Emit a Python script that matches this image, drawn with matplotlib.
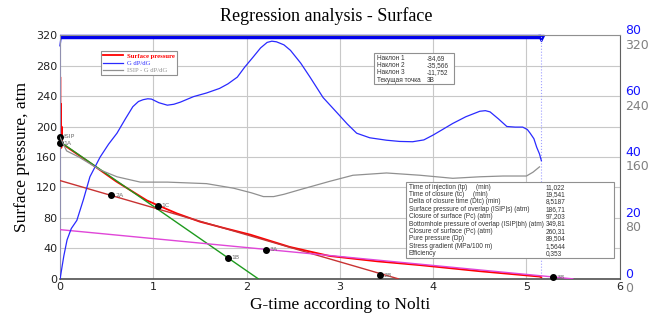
import numpy as np
import matplotlib.pyplot as plt
from matplotlib.patches import Rectangle
from matplotlib.transforms import ScaledTranslation

# ---- data ----
# surface pressure (atm) vs G-time
red_x = [0, 0.002, 0.004, 0.006, 0.008, 0.010, 0.013, 0.016, 0.020, 0.030, 0.05,
         0.30, 0.60, 0.93, 1.04, 1.25, 1.50, 1.75, 2.04, 2.46, 2.89, 3.40, 3.86, 4.50, 5.14, 5.16]
red_y = [186, 265, 175, 230, 180, 215, 172, 200, 178, 176, 175,
         154, 128, 103, 97, 86, 75, 67, 58, 42, 30, 23, 18, 10, 3, 2]

# G dP/dG (right blue axis, 0..80)
blue_x = [0, 0.04, 0.075, 0.12, 0.18, 0.25, 0.32, 0.43, 0.52, 0.61, 0.70, 0.78, 0.84, 0.89,
          0.94, 0.98, 1.06, 1.15, 1.22, 1.29, 1.43, 1.57, 1.71, 1.80, 1.90, 1.98, 2.07,
          2.15, 2.22, 2.27, 2.32, 2.40, 2.47, 2.58, 2.68, 2.82, 2.97, 3.08, 3.18, 3.32,
          3.50, 3.64, 3.78, 3.90, 4.00, 4.10, 4.21, 4.35, 4.50, 4.56, 4.61, 4.70, 4.79,
          4.88, 4.96, 5.01, 5.04, 5.08, 5.11, 5.14, 5.16]
blue_y = [0, 7.5, 12.8, 16.5, 19.2, 26.0, 33.5, 40.0, 44.2, 47.8, 52.5, 56.5, 58.2, 58.8,
          59.1, 59.0, 57.8, 57.0, 57.3, 58.0, 59.8, 61.0, 62.5, 64.0, 66.2, 69.5, 72.8,
          75.8, 77.6, 78.0, 77.8, 76.8, 75.0, 70.8, 66.2, 59.5, 54.5, 50.8, 47.8, 46.3,
          45.5, 45.1, 45.0, 45.6, 47.2, 49.0, 51.0, 53.2, 55.0, 55.2, 54.8, 52.5, 50.0,
          49.8, 49.8, 49.0, 47.8, 46.0, 43.2, 41.0, 38.8]

# ISIP - G dP/dG (right gray axis, 0..320)
gray_x = [0, 0.07, 0.20, 0.43, 0.61, 0.86, 1.15, 1.57, 1.86, 2.05, 2.18, 2.29, 2.40, 2.57,
          2.89, 3.14, 3.50, 3.86, 4.21, 4.50, 4.75, 5.00, 5.07, 5.14]
gray_y = [186, 168, 160, 143, 134, 127, 127, 125, 119, 113, 108, 108, 111, 117,
          128, 136, 139, 136, 132, 134, 135, 135, 140, 147]

# regression lines: (intercept, slope)
fit_b = [180.0, 129.0, 64.6]
fit_k = [-84.69, -35.566, -11.752]
fit_colors = ['#1e9a1e', '#c83232', '#e046d8']

# marked points
pt_names = ['ISIP', '1A', '2A', '1C', '1B', '3A', '2B', '3B']
pt_x = [0.0, 0.0, 0.55, 1.05, 1.80, 2.21, 3.43, 5.28]
pt_y = [186.7, 178, 110, 96, 28, 38, 5, 2]

closure_x = 5.16  # end of the injection bar / dotted marker

slope_names = ['Наклон 1', 'Наклон 2', 'Наклон 3', 'Текущая точка']
slope_vals = ['-84,69', '-35,566', '-11,752', '3B']

info_names = ['Time of injection (tp)     (min)', 'Time of closure (tc)     (min)',
              'Delta of closure time (Dtc) (min)', 'Surface pressure of overlap (ISIP|s) (atm)',
              'Closure of surface (Pc) (atm)', 'Bottomhole pressure of overlap (ISIP|bh) (atm)',
              'Closure of surface (Pc) (atm)', 'Pure pressure (Dp)',
              'Stress gradient (MPa/100 m)', 'Efficiency']
info_vals = ['11,022', '19,541', '8,5187', '186,71', '97,203', '349,81',
             '260,31', '89,504', '1,5644', '0,353']

# ---- figure ----
fig = plt.figure(figsize=(6.53, 3.22), dpi=100)
ax = fig.add_axes([0.092, 0.134, 0.857, 0.757])
ax.set_xlim(0, 6)
ax.set_ylim(0, 320)
ax.set_xticks(range(0, 7))
ax.set_yticks(range(0, 321, 40))
ax.grid(True, color='#c8c8c8', lw=0.8)
ax.set_axisbelow(True)
ax.tick_params(length=0, labelsize=8, colors='#222222', pad=2)
ax.spines['left'].set_color('#9090b0')
ax.spines['bottom'].set_color('#505050')
ax.spines['bottom'].set_linewidth(1.2)
ax.spines['right'].set_color('#606060')
ax.spines['top'].set_color('#909090')

# right axes: blue G dP/dG scale and gray ISIP scale
ax2 = ax.twinx()
ax2.set_ylim(0, 80)
ax2.set_yticks(range(0, 81, 20))
ax2.tick_params(length=0, labelsize=9, colors='#1515ff', pad=4)
for t in ax2.get_yticklabels():
    t.set_verticalalignment('baseline')
    t.set_transform(t.get_transform() + ScaledTranslation(0, 0.5 / 72, fig.dpi_scale_trans))
ax3 = ax.twinx()
ax3.set_ylim(0, 320)
ax3.set_yticks(range(0, 321, 80))
ax3.tick_params(length=0, labelsize=9, colors='#808080', pad=4)
for t in ax3.get_yticklabels():
    t.set_verticalalignment('top')
    t.set_transform(t.get_transform() + ScaledTranslation(0, -2.5 / 72, fig.dpi_scale_trans))
for a in (ax2, ax3):
    for s in a.spines.values():
        s.set_visible(False)

# regression lines down to zero pressure
for b, k, c in zip(fit_b, fit_k, fit_colors):
    xe = -b / k
    ax.plot([0, xe], [b, b + k * xe], color=c, lw=1.0, zorder=3)

l_gray, = ax3.plot(gray_x, gray_y, color='#909090', lw=0.9, label='ISIP - G dP/dG', zorder=2)
l_blue, = ax2.plot(blue_x, blue_y, color='#2a2aff', lw=0.9, label='G dP/dG', zorder=2)
l_red, = ax.plot(red_x, red_y, color='#ff0000', lw=1.3, label='Surface pressure', zorder=2.5)

# injection bar on top and closure marker
ax.plot([0, 0.01], [306, 317.5], color='#0000ee', lw=1.0, clip_on=False)
ax.plot([0, closure_x], [317.5, 317.5], color='#0000ee', lw=3.2, clip_on=False, solid_capstyle='butt')
ax.plot([closure_x], [316], marker='v', color='#0000ee', ms=5, clip_on=False)
ax.axvline(closure_x, color='#a0a0ff', lw=0.8, ls=':')

# marked points
ax.scatter(pt_x, pt_y, s=16, color='black', zorder=5, clip_on=False)
for n, x, y in zip(pt_names, pt_x, pt_y):
    ax.text(x + 0.04, y, n, fontsize=4.5, color='#707070', va='center', ha='left', zorder=6)

# legend
leg = ax.legend(handles=[l_red, l_blue, l_gray], loc='upper left', bbox_to_anchor=(0.068, 0.948),
                prop={'family': 'Liberation Serif', 'size': 4.8}, labelcolor='linecolor',
                fancybox=False, framealpha=1, edgecolor='#909090', handlelength=3.0,
                borderpad=0.3, labelspacing=0.25, handletextpad=0.5)
leg.get_texts()[0].set_fontweight('bold')
leg.get_frame().set_linewidth(0.8)

box_font = {'family': 'Liberation Sans', 'size': 4.7}
row_step = 0.0302


def table_box(x0, y0, w, h, top, names, vals, xval):
    ax.add_patch(Rectangle((x0, y0), w, h, transform=ax.transAxes, fill=True,
                           facecolor='white', edgecolor='#909090', lw=0.8, zorder=7))
    for i, (n, v) in enumerate(zip(names, vals)):
        yy = top - i * row_step
        ax.text(x0 + 0.005, yy, n, transform=ax.transAxes, fontdict=box_font,
                va='center', ha='left', color='#333333', zorder=8)
        ax.text(xval, yy, v, transform=ax.transAxes, fontdict=box_font,
                va='center', ha='left', color='#333333', zorder=8)


table_box(0.561, 0.80, 0.143, 0.127, 0.905, slope_names, slope_vals, 0.655)
table_box(0.618, 0.086, 0.371, 0.312, 0.376, info_names, info_vals, 0.868)

serif = 'Liberation Serif'
fig.text(0.5, 0.95, 'Regression analysis - Surface', ha='center', va='center',
         family=serif, fontsize=13)
ax.set_xlabel('G-time according to Nolti', family=serif, fontsize=12.5, labelpad=4)
ax.set_ylabel('Surface pressure, atm', family=serif, fontsize=12.5, labelpad=4)

fig.savefig('out.png', dpi=100)
